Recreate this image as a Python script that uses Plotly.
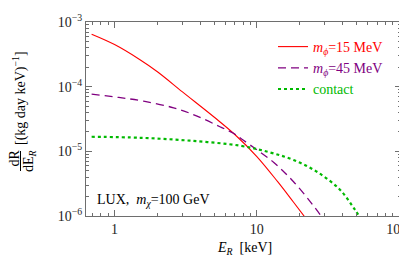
import plotly.graph_objects as go
import numpy as np

# Data (E_R in keV, dR/dE_R in (kg day keV)^-1)
E_15 = [0.69, 1.0, 1.5, 2.0, 3.0, 5.0, 7.0, 10.0, 14.0, 18.0, 22.0]
R_15 = [6.46e-4, 4.47e-4, 2.63e-4, 1.70e-4, 8.3e-5, 3.39e-5, 1.82e-5, 8.3e-6, 3.39e-6, 1.66e-6, 9.3e-7]

E_45 = [0.69, 1.07, 1.6, 2.6, 3.8, 5.5, 6.85, 8.05, 13.1, 18.1, 23.7, 27.9, 30.0]
R_45 = [7.66e-5, 6.81e-5, 5.97e-5, 4.71e-5, 3.51e-5, 2.40e-5, 1.90e-5, 1.48e-5, 6.76e-6, 3.39e-6, 1.67e-6, 1.04e-6, 8.2e-7]

E_ct = [0.69, 1.52, 3.4, 7.64, 12.4, 18.1, 26.4, 38.5, 49.0, 53.5]
R_ct = [1.68e-5, 1.62e-5, 1.46e-5, 1.22e-5, 9.6e-6, 7.35e-6, 4.84e-6, 2.53e-6, 1.24e-6, 9.2e-7]

x_tickvals = [1, 10, 100]
x_ticktext = ["1", "10", "10<sup>2</sup>\u00a0\u00a0"]
y_tickvals = [1e-6, 1e-5, 1e-4, 1e-3]
y_ticktext = ["10<sup>\u22126</sup>", "10<sup>\u22125</sup>", "10<sup>\u22124</sup>", "10<sup>\u22123</sup>"]

RED = "rgb(255,0,0)"
PURPLE = "rgb(128,0,128)"
GREEN = "rgb(0,185,0)"
FONT = "Liberation Serif, Times New Roman, Times, serif"

fig = go.Figure()
fig.add_trace(go.Scatter(x=E_15, y=R_15, mode="lines", line=dict(color=RED, width=1.1, shape="spline"),
                         name=f"<span style='color:{RED}'><i>m</i><sub><i>\u03d5</i></sub>=15 MeV</span>"))
fig.add_trace(go.Scatter(x=E_45, y=R_45, mode="lines", line=dict(color=PURPLE, width=1.3, dash="8px,5px", shape="spline"),
                         name=f"<span style='color:{PURPLE}'><i>m</i><sub><i>\u03d5</i></sub>=45 MeV</span>"))
fig.add_trace(go.Scatter(x=E_ct, y=R_ct, mode="lines", line=dict(color=GREEN, width=2.2, dash="3px,3px", shape="spline"),
                         name=f"<span style='color:{GREEN}'>contact</span>"))

# page body adds an 8px offset; lay out in reference pixel coordinates minus that offset
OFF = 8
W, H = 407, 266
L, T = 86 - OFF, 22 - OFF
R = W - (401 - OFF)
B = H - (216 - OFF)
pw, ph = W - L - R, H - T - B
def px(xp):
    return (xp - OFF - L) / pw
def py(yp):
    return (H - B - (yp - OFF)) / ph

axis_common = dict(type="log", showline=True, linecolor="rgb(110,110,110)", linewidth=1,
                   mirror="allticks", ticks="inside", ticklen=6, tickwidth=0.8, tickcolor="rgb(110,110,110)",
                   showgrid=False, zeroline=False, automargin=False,
                   tickfont=dict(family=FONT, size=14, color="rgb(30,30,30)"))

fig.update_xaxes(**axis_common, range=[np.log10(0.63), np.log10(103)],
                 tickmode="array", tickvals=x_tickvals, ticktext=x_ticktext,
                 minor=dict(ticks="inside", ticklen=3, tickwidth=0.8, tickcolor="rgb(110,110,110)", dtick="D1", showgrid=False))
fig.update_yaxes(**axis_common, range=[-6, -3],
                 tickmode="array", tickvals=y_tickvals, ticktext=y_ticktext,
                 minor=dict(ticks="inside", ticklen=3, tickwidth=0.8, tickcolor="rgb(110,110,110)", dtick="D1", showgrid=False))

ann = [
    dict(text="LUX,  <i>m<sub>\u03c7</sub></i>=100 GeV", x=px(95), y=py(200), xanchor="left", yanchor="middle",
         font=dict(family=FONT, size=14, color="black")),
    dict(text="<i>E<sub>R</sub></i>  [keV]", x=px(244), y=py(248), xanchor="center", yanchor="middle",
         font=dict(family=FONT, size=14, color="black")),
    dict(text="[(kg day keV)<sup>\u22121</sup>]", x=px(19), y=py(98), textangle=-90, xanchor="center", yanchor="middle",
         font=dict(family=FONT, size=14, color="black")),
    dict(text="dR", x=px(13.5), y=py(158), textangle=-90, xanchor="center", yanchor="middle",
         font=dict(family=FONT, size=14, color="black")),
    dict(text="dE<sub><i>R</i></sub>", x=px(29), y=py(161), textangle=-90, xanchor="center", yanchor="middle",
         font=dict(family=FONT, size=14, color="black")),
]
for a in ann:
    a.update(xref="paper", yref="paper", showarrow=False)

fig.update_layout(
    width=W, height=H, margin=dict(l=L, r=R, t=T, b=B, autoexpand=False),
    paper_bgcolor="white", plot_bgcolor="white",
    font=dict(family=FONT),
    annotations=ann,
    shapes=[dict(type="line", xref="paper", yref="paper", x0=px(20.5), x1=px(20.5), y0=py(151), y1=py(171),
                 line=dict(color="black", width=1))],
    legend=dict(x=px(273), y=py(31), xanchor="left", yanchor="top", bgcolor="rgba(0,0,0,0)",
                font=dict(family=FONT, size=14), tracegroupgap=0, itemwidth=30),
    showlegend=True,
)

fig.write_html("out.html")
